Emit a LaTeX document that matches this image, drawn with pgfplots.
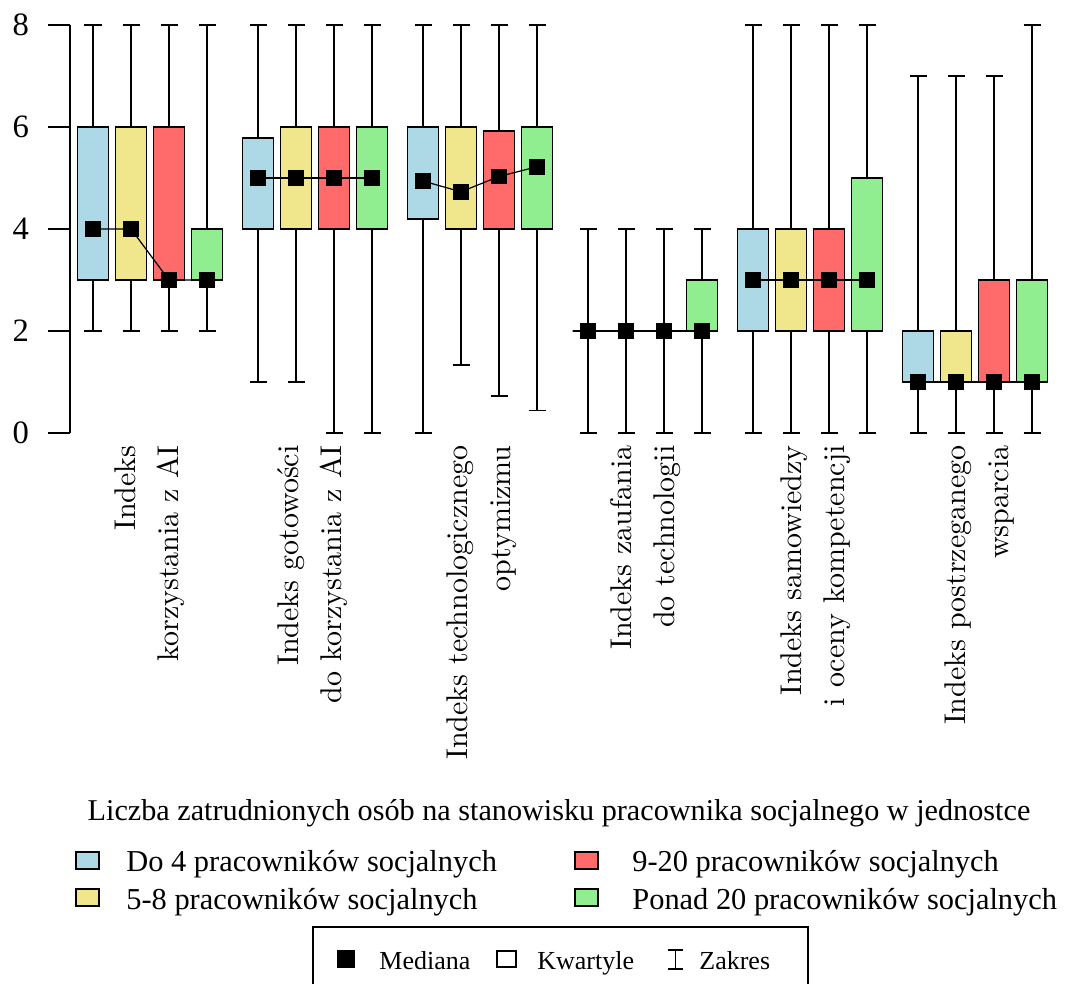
\documentclass[border=0pt]{standalone}
\usepackage{fontspec}
\usepackage{pgfplots}
\pgfplotsset{compat=1.18}
\usepgfplotslibrary{statistics}
\newfontfamily\tnr{Liberation Serif}
\newfontfamily\lmten{lmroman10-regular}[Extension=.otf]

\definecolor{cA}{HTML}{ADD8E6}
\definecolor{cB}{HTML}{F0E68C}
\definecolor{cC}{HTML}{FF6A6A}
\definecolor{cD}{HTML}{90EE90}

% box: position, colour, min, q1, median, q3, max
\newcommand{\bx}[7]{%
  \addplot[draw=black, fill=#2, line width=0.9pt,
    boxplot prepared={draw position=#1, lower whisker=#3, lower quartile=#4,
      median=#5, upper quartile=#6, upper whisker=#7}] coordinates {};}

\begin{document}
\begin{tikzpicture}
\begin{axis}[
    x=50pt, y=25.5pt,
    xmin=0.70, xmax=10.65, ymin=0, ymax=8,
    enlargelimits=false,
    clip=false,
    axis x line=none,
    axis y line=left,
    y axis line style={-, line width=1pt},
    ytick={0,2,4,6,8},
    tick align=outside,
    major tick length=11pt,
    tick style={black, line width=1pt},
    /pgf/number format/assume math mode=true,
    yticklabel style={font=\tnr\fontsize{16.3}{16}\selectfont, xshift=-6pt},
    boxplot/draw direction=y,
    boxplot/box extend=0.31,
    boxplot/whisker extend=0.17,
    boxplot/draw/median/.code={},
]
% Indeks korzystania z AI
\bx{0.93}{cA}{2}{3}{4}{6}{8}
\bx{1.31}{cB}{2}{3}{4}{6}{8}
\bx{1.69}{cC}{2}{3}{3}{6}{8}
\bx{2.07}{cD}{2}{3}{3}{4}{8}
% Indeks gotowosci
\bx{2.58}{cA}{1}{4}{5}{5.78}{8}
\bx{2.96}{cB}{1}{4}{5}{6}{8}
\bx{3.34}{cC}{0}{4}{5}{6}{8}
\bx{3.72}{cD}{0}{4}{5}{6}{8}
% Indeks technologicznego optymizmu
\bx{4.23}{cA}{0}{4.2}{4.94}{6}{8}
\bx{4.61}{cB}{1.34}{4}{4.73}{6}{8}
\bx{4.99}{cC}{0.72}{4}{5.03}{5.92}{8}
\bx{5.37}{cD}{0.44}{4}{5.22}{6}{8}
% Indeks zaufania
\bx{5.88}{cA}{0}{2}{2}{2}{4}
\bx{6.26}{cB}{0}{2}{2}{2}{4}
\bx{6.64}{cC}{0}{2}{2}{2}{4}
\bx{7.02}{cD}{0}{2}{2}{3}{4}
% Indeks samowiedzy
\bx{7.53}{cA}{0}{2}{3}{4}{8}
\bx{7.91}{cB}{0}{2}{3}{4}{8}
\bx{8.29}{cC}{0}{2}{3}{4}{8}
\bx{8.67}{cD}{0}{2}{3}{5}{8}
% Indeks postrzeganego wsparcia
\bx{9.18}{cA}{0}{1}{1}{2}{7}
\bx{9.56}{cB}{0}{1}{1}{2}{7}
\bx{9.94}{cC}{0}{1}{1}{3}{7}
\bx{10.32}{cD}{0}{1}{1}{3}{8}

% medians
\addplot[black, line width=0.6pt, mark=square*, mark size=3.6pt] coordinates {(0.93,4) (1.31,4) (1.69,3) (2.07,3)};
\addplot[black, line width=0.6pt, mark=square*, mark size=3.6pt] coordinates {(2.58,5) (2.96,5) (3.34,5) (3.72,5)};
\addplot[black, line width=0.6pt, mark=square*, mark size=3.6pt] coordinates {(4.23,4.94) (4.61,4.73) (4.99,5.03) (5.37,5.22)};
\addplot[black, line width=0.6pt, mark=square*, mark size=3.6pt] coordinates {(5.88,2) (6.26,2) (6.64,2) (7.02,2)};
\addplot[black, line width=0.6pt, mark=square*, mark size=3.6pt] coordinates {(7.53,3) (7.91,3) (8.29,3) (8.67,3)};
\addplot[black, line width=0.6pt, mark=square*, mark size=3.6pt] coordinates {(9.18,1) (9.56,1) (9.94,1) (10.32,1)};

\coordinate (P0) at (axis cs:0,8.4902);
\end{axis}

\begin{scope}[shift={(P0)}, x=0.5pt, y=-0.5pt]
\path (0,0) rectangle (1065,984);
% category labels
\begin{scope}[every node/.style={rotate=90, anchor=east, align=right, inner sep=0pt,
    font=\lmten\fontsize{15}{21.5}\selectfont}]
\node at (150,445) {Indeks\\korzystania z AI};
\node at (313,445) {Indeks gotowości\\do korzystania z AI};
\node at (482,445) {Indeks technologicznego\\optymizmu};
\node at (646,445) {Indeks zaufania\\do technologii};
\node at (816,445) {Indeks samowiedzy\\i oceny kompetencji};
\node at (979,445) {Indeks postrzeganego\\wsparcia};
\end{scope}
% legend
\node[font=\tnr\fontsize{15.1}{18}\selectfont, inner sep=0pt, anchor=base] at (559,820)
  {Liczba zatrudnionych osób na stanowisku pracownika socjalnego w jednostce};
\begin{scope}[every node/.style={anchor=base west, inner sep=0pt, font=\tnr\fontsize{15.2}{18}\selectfont}]
\draw[fill=cA, line width=0.8pt] (76,852) rectangle (99,869);
\node at (126,871) {Do 4 pracowników socjalnych};
\draw[fill=cB, line width=0.8pt] (76,889) rectangle (99,906);
\node at (126,909) {5-8 pracowników socjalnych};
\draw[fill=cC, line width=0.8pt] (575,852) rectangle (598,869);
\node at (632,871) {9-20 pracowników socjalnych};
\draw[fill=cD, line width=0.8pt] (575,889) rectangle (598,906);
\node at (632,909) {Ponad 20 pracowników socjalnych};
\end{scope}
\draw[line width=0.8pt] (313,984) -- (313,927) -- (808,927) -- (808,984);
\begin{scope}[every node/.style={anchor=base west, inner sep=0pt, font=\tnr\fontsize{13}{15}\selectfont}]
\fill (337,950) rectangle (355,968);
\node at (379,969) {Mediana};
\draw[line width=0.6pt] (497,951) rectangle (516,967);
\node at (537,969) {Kwartyle};
\draw[line width=0.7pt] (668,950) -- (683,950) (675.5,950) -- (675.5,969) (668,969) -- (683,969);
\node at (699,969) {Zakres};
\end{scope}
\end{scope}
\end{tikzpicture}
\end{document}
